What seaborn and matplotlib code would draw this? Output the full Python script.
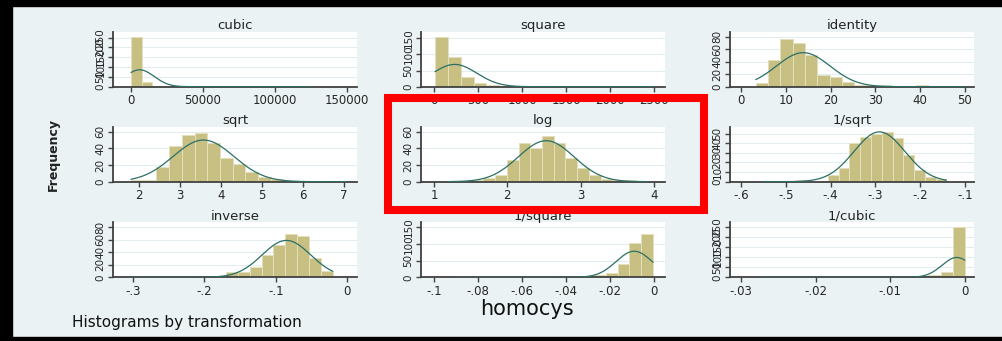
import numpy as np
import pandas as pd
import matplotlib
matplotlib.use('Agg')
import matplotlib.pyplot as plt
import seaborn as sns
from matplotlib.patches import Rectangle

# gladder-style panels for homocys, row by row
titles = ['cubic', 'square', 'identity', 'sqrt', 'log', '1/sqrt', 'inverse', '1/square', '1/cubic']

# min / max of each transformed variable (bins run from min to max)
data_lo = [36, 10.9, 3.3, 1.817, 1.194, -0.5505, -0.3030, -0.0918, -0.0278]
data_hi = [125000, 2500, 50, 7.071, 3.912, -0.1414, -0.0200, -0.0004, -0.00001]

# bar heights, 17 bins per panel
counts_cubic = [255, 26, 6, 3, 2, 1, 1, 1, 0, 1, 0, 0, 0, 0, 0, 0, 1]
counts_square = [155, 91, 29, 12, 5, 2, 1, 1, 0, 0, 1, 0, 0, 0, 0, 0, 1]
counts_identity = [6, 42, 77, 70, 51, 19, 15, 8, 3, 2, 2, 0, 0, 2, 0, 0, 1]
counts_sqrt = [2, 2, 18, 43, 56, 58, 47, 28, 21, 12, 6, 3, 1, 1, 1, 0, 1]
counts_log = [1, 1, 2, 4, 8, 26, 47, 41, 55, 47, 28, 17, 8, 3, 2, 2, 1]
counts_rsqrt = [1, 0, 0, 2, 0, 1, 7, 14, 40, 47, 50, 52, 45, 28, 12, 5, 3]
counts_inverse = [1, 0, 0, 0, 1, 1, 0, 1, 8, 9, 17, 36, 52, 70, 66, 31, 10]
counts_rsquare = [1, 0, 0, 0, 0, 1, 0, 0, 1, 1, 1, 2, 6, 14, 40, 102, 130]
counts_rcubic = [1, 0, 0, 0, 0, 0, 0, 0, 1, 0, 1, 1, 2, 5, 12, 28, 250]
all_counts = [counts_cubic, counts_square, counts_identity, counts_sqrt, counts_log,
              counts_rsqrt, counts_inverse, counts_rsquare, counts_rcubic]

# mean and sd of the normal overlay
means = [6000, 235, 13.9, 3.58, 2.53, -0.291, -0.085, -0.0090, -0.0011]
sds = [10100, 252, 6.0, 0.74, 0.38, 0.0569, 0.0341, 0.0082, 0.00198]

# axis ticks
xticks = [[0, 50000, 100000, 150000],
          [0, 500, 1000, 1500, 2000, 2500],
          [0, 10, 20, 30, 40, 50],
          [2, 3, 4, 5, 6, 7],
          [1, 2, 3, 4],
          [-0.6, -0.5, -0.4, -0.3, -0.2, -0.1],
          [-0.3, -0.2, -0.1, 0],
          [-0.1, -0.08, -0.06, -0.04, -0.02, 0],
          [-0.03, -0.02, -0.01, 0]]
yticks = [[0, 50, 100, 150, 200, 250],
          [0, 50, 100, 150],
          [0, 20, 40, 60, 80],
          [0, 20, 40, 60],
          [0, 20, 40, 60],
          [0, 10, 20, 30, 40, 50],
          [0, 20, 40, 60, 80],
          [0, 50, 100, 150],
          [0, 50, 100, 150, 200, 250]]

BG = '#EAF2F3'
BAR = '#C8C083'
LINE = '#2B6F66'


def stata_label(v):
    s = f'{v:g}'
    if s == '0':
        return s
    return s.replace('-0.', '-.')


sns.set_theme(style='white')
plt.rcParams['font.family'] = ['DejaVu Sans']

W, H = 1003, 341
fig = plt.figure(figsize=(W / 100, H / 100), dpi=100, facecolor=BG)

col_left = [113, 421, 730]
ax_w = 244
row_axis = [86.7, 181.7, 277.3]
ax_h = 55
pads = [(18, 10), (13, 11), (11, 9)]

for i, title in enumerate(titles):
    r, c = divmod(i, 3)
    ax = fig.add_axes([col_left[c] / W, (H - row_axis[r]) / H, ax_w / W, ax_h / H])
    ax.set_facecolor('white')

    counts = all_counts[i]
    lo, hi = data_lo[i], data_hi[i]
    nb = len(counts)
    bw = (hi - lo) / nb
    centers = lo + bw * (np.arange(nb) + 0.5)
    n = sum(counts)
    df = pd.DataFrame({'x': centers, 'w': counts})

    sns.histplot(data=df, x='x', weights='w', bins=nb, binrange=(lo, hi), ax=ax,
                 color=BAR, alpha=1, edgecolor='#E4DFBC', linewidth=0.7, zorder=2)

    xs = np.linspace(lo, hi, 300)
    ys = n * bw * np.exp(-0.5 * ((xs - means[i]) / sds[i]) ** 2) / (sds[i] * np.sqrt(2 * np.pi))
    sns.lineplot(x=xs, y=ys, ax=ax, color=LINE, linewidth=0.9, zorder=3)

    # x range like Stata: union of ticks and data, plus a small margin
    rlo = min(xticks[i][0], lo)
    rhi = max(xticks[i][-1], hi)
    scale = (ax_w - pads[c][0] - pads[c][1]) / (rhi - rlo)
    ax.set_xlim(rlo - pads[c][0] / scale, rhi + pads[c][1] / scale)
    top = max(yticks[i][-1], max(counts), ys.max()) * 1.1
    ax.set_ylim(0, top)

    ax.set_xticks(xticks[i])
    ax.set_xticklabels([stata_label(v) for v in xticks[i]], fontsize=8.5)
    ax.set_yticks(yticks[i])
    ax.set_yticklabels([str(v) for v in yticks[i]], fontsize=7.5, rotation=90, va='center')
    ax.tick_params(axis='both', length=3.5, width=1, color='#444444', pad=2,
                   direction='out', bottom=True, left=True)
    ax.yaxis.grid(True, color='#E3EDEF', linewidth=0.8, zorder=0)
    ax.xaxis.grid(False)
    ax.set_axisbelow(True)
    for side in ['top', 'right']:
        ax.spines[side].set_visible(False)
    for side in ['left', 'bottom']:
        ax.spines[side].set_color('#404040')
        ax.spines[side].set_linewidth(1.3)
    ax.set_xlabel('')
    ax.set_ylabel('')
    ax.set_title(title, fontsize=9.5, pad=2, color='#222222')

fig.text(53 / W, (H - 154) / H, 'Frequency', rotation=90, ha='center', va='center',
         fontsize=9, fontweight='bold', color='#222222')
fig.text(527 / W, (H - 309) / H, 'homocys', ha='center', va='center', fontsize=15,
         color='#111111')
fig.text(72 / W, (H - 323) / H, 'Histograms by transformation', ha='left', va='center',
         fontsize=11, color='#111111')

# black frame (top, left, bottom)
fig.add_artist(Rectangle((0, 1 - 6 / H), 1, 6 / H, transform=fig.transFigure,
                         color='black', zorder=10))
fig.add_artist(Rectangle((0, 0), 12 / W, 1, transform=fig.transFigure,
                         color='black', zorder=10))
fig.add_artist(Rectangle((0, 0), 1, 4 / H, transform=fig.transFigure,
                         color='black', zorder=10))

# red highlight box around the log panel
fig.add_artist(Rectangle((388 / W, (H - 210) / H), 316 / W, 112 / H,
                         transform=fig.transFigure, fill=False, edgecolor='#FF0000',
                         linewidth=5.8, zorder=11))

fig.savefig('out.png', dpi=100, facecolor=fig.get_facecolor())
